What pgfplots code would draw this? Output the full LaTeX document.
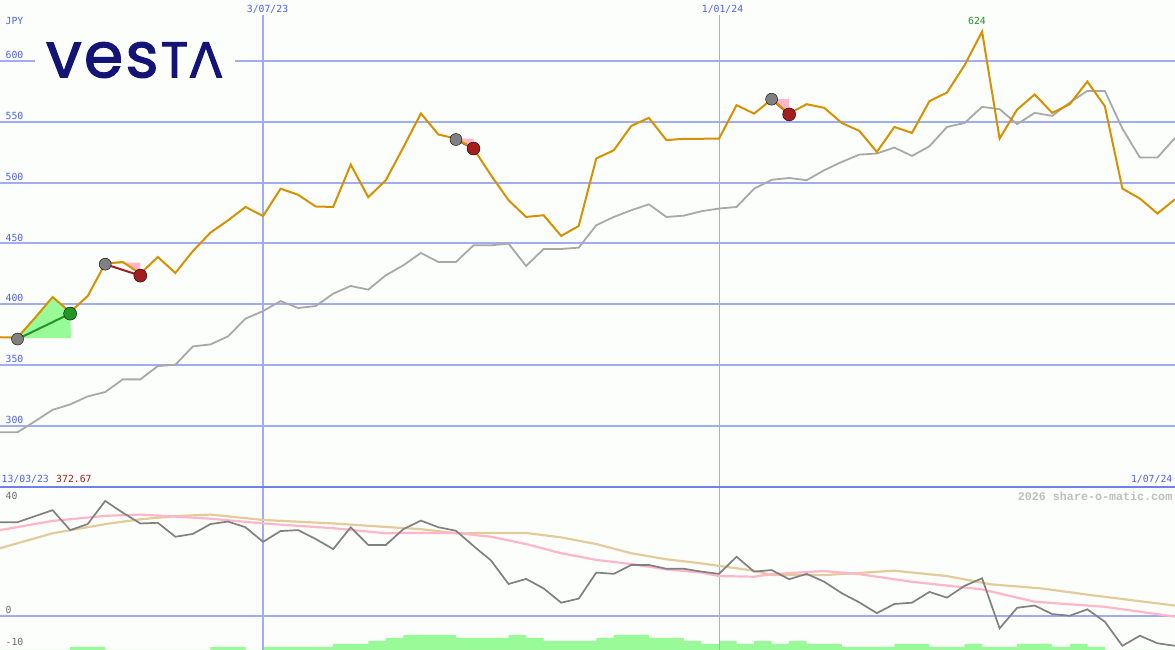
\documentclass[border=0pt]{standalone}
\usepackage{pgfplots}
\pgfplotsset{compat=1.18}
\usepackage{fontspec}
\setmainfont{DejaVu Sans Mono}
\newfontfamily\wmfont{Liberation Mono}
\newfontfamily\logofont{Poppins}[FakeBold=2]
\definecolor{bg}{RGB}{252,254,252}
\definecolor{gridb}{RGB}{160,174,240}
\definecolor{sepb}{RGB}{112,128,232}
\definecolor{labb}{RGB}{80,96,240}
\definecolor{priceo}{RGB}{215,145,0}
\definecolor{mag}{RGB}{168,168,168}
\definecolor{oscg}{RGB}{128,128,128}
\definecolor{pinkl}{RGB}{255,182,200}
\definecolor{tanl}{RGB}{226,204,156}
\definecolor{palegr}{RGB}{152,251,152}
\definecolor{darkgr}{RGB}{34,150,34}
\definecolor{darkred}{RGB}{165,30,30}
\definecolor{markgrey}{RGB}{128,128,128}
\definecolor{navy}{RGB}{20,20,118}
\definecolor{wmgrey}{RGB}{190,190,190}
\definecolor{lblgrey}{RGB}{110,110,110}

\pgfplotstableread{
k v
0 373
1 372.7
2 389
3 406
4 393.7
5 406.8
6 433.5
7 434.8
8 425.2
9 438.9
10 425.8
11 443.8
12 458.9
13 469
14 480
15 472.6
16 495
17 490
18 480.4
19 480
20 514.8
21 488
22 502
23 529
24 556.8
25 539.5
26 536.2
27 528
28 506
29 485.5
30 471.8
31 473.2
32 456.2
33 464.4
34 519.8
35 526.6
36 546.6
37 553.2
38 534.9
39 536
40 536
41 536.2
42 563.6
43 556.7
44 568.3
45 556.8
46 564.4
47 561.4
48 549
49 542.5
50 525.2
51 545.7
52 540.8
53 566.9
54 574
55 596.4
56 624
57 536.2
58 560
59 572.4
60 557.3
61 564.4
62 583
63 562.8
64 495.1
65 486.9
66 474.6
67 486.3
}\price

\pgfplotstableread{
k v
0 295
1 295
2 304
3 313.4
4 317.8
5 324.4
6 328
7 338.4
8 338.4
9 349.3
10 350.4
11 365.5
12 367.1
13 373.7
14 388.3
15 394.5
16 402.7
17 397
18 398.6
19 408.8
20 415.1
21 412.1
22 423.9
23 432.1
24 442.2
25 434.8
26 434.8
27 448.5
28 448.5
29 449.9
30 431.5
31 445.5
32 445.5
33 446.6
34 465
35 471.8
36 477.3
37 482.2
38 471.8
39 472.9
40 476.5
41 478.7
42 480
43 495
44 502.3
45 503.8
46 502
47 510.2
48 517
49 523
50 523.9
51 528.8
52 521.9
53 529.9
54 545.7
55 549
56 562.2
57 560.3
58 548
59 557.3
60 554.8
61 565.8
62 575.3
63 575.3
64 544.4
65 520.6
66 520.6
67 536.7
}\mavg

\pgfplotstableread{
k v
0 29.5
1 29.5
2 31.4
3 33.3
4 27
5 28.9
6 36.2
7 32.5
8 29.1
9 29.3
10 24.9
11 25.8
12 28.9
13 29.7
14 27.9
15 23.3
16 26.7
17 27
18 24.2
19 21
20 27.9
21 22.3
22 22.3
23 27.3
24 30
25 27.9
26 26.8
27 22
28 17.4
29 10
30 11.6
31 8.6
32 4.1
33 5.4
34 13.6
35 13.2
36 16
37 16
38 14.8
39 14.8
40 13.9
41 13.2
42 18.6
43 13.9
44 14.4
45 11.5
46 13.2
47 10.7
48 7.1
49 4.2
50 0.8
51 3.7
52 4.1
53 7.5
54 5.7
55 9.4
56 11.8
57 -4
58 2.5
59 3.2
60 0.5
61 0
62 2
63 -1.9
64 -9.5
65 -6.3
66 -8.7
67 -9.5
}\osc

\pgfplotstableread{
k v
0 27
3 29.9
6 31.5
8 31.9
12 30.6
15 29.1
19 27.6
22 26
24 26.1
26 26.1
28 24.9
30 22.6
32 19.7
34 17.6
36 16.3
38 14.6
40 13.6
41 12.5
43 12.3
44 13.1
47 14.1
49 13.1
52 10.7
56 8.3
59 4.4
63 2.8
67 -0.3
}\oscpink

\pgfplotstableread{
k v
0 21.3
3 26
6 28.9
8 30.4
10 31.4
12 31.9
15 30.2
19 29.1
22 28
24 27.3
26 26
28 26.1
30 26.1
32 24.7
34 22.6
36 19.7
38 17.8
40 16.5
41 15.7
43 14.2
44 12.8
47 12.8
51 14.2
54 12.5
56.5 9.9
59.4 8.6
62.2 6.5
67 3.2
}\osctan

\pgfplotstableread{
k h
0 0
4 3
6 0
12 3
14 0
15 3
19 6
21 9
22 12
23 15
26 12
29 15
30 12
31 9
34 12
35 15
37 12
39 9
40 6
41 9
42 6
43 9
44 6
45 9
46 6
48 3
51 6
53 3
55 6
56 3
58 6
60 3
61 6
62 3
63 0
67 0
}\hist

\begin{document}
\begin{tikzpicture}[x=1pt,y=1pt]
\useasboundingbox (0,0) rectangle (1175,650);
\fill[bg] (0,0) rectangle (1175,650);

% ---------- top panel ----------
\begin{axis}[at={(0pt,163pt)}, anchor=south west, scale only axis,
  width=1175pt, height=487pt, xmin=0, xmax=67, ymin=250, ymax=650,
  axis line style={draw=none}, xtick=\empty, ytick={300,350,...,600},
  yticklabels={}, major tick length=0pt, ymajorgrids,
  grid style={gridb, line width=2pt}, clip=true]
\draw[gridb, line width=2.3pt] (axis cs:15,250) -- (axis cs:15,637.7);
\draw[gridb, line width=1pt] (axis cs:41,250) -- (axis cs:41,637.7);
% signal areas
\addplot[fill=palegr, draw=none] coordinates {(1,372.3)(2,389)(3,406)(4,393.7)(4.05,372.3)} --cycle;
\addplot[fill=palegr, draw=none] coordinates {(6,433.5)(7,434.8)(7.1,433.5)} --cycle;
\addplot[fill=pinkl, draw=none] coordinates {(7.05,434.3)(8,434.3)(8,425.2)} --cycle;
\addplot[fill=pinkl, draw=none] coordinates {(26,536.2)(27,536.2)(27,528)} --cycle;
\addplot[fill=pinkl, draw=none] coordinates {(44,568.5)(45,568.5)(45,556.8)} --cycle;
% signal links
\addplot[darkgr, line width=2pt] coordinates {(1,371.5)(4,392.4)};
\addplot[darkred, line width=2pt] coordinates {(6,433)(8,423.6)};
\addplot[darkred, line width=2pt] coordinates {(26,535.4)(27,528)};
\addplot[darkred, line width=2pt] coordinates {(44,568.5)(45,556)};
% markers
\addplot[only marks, mark=*, mark size=6pt, mark options={fill=markgrey, draw=none}]
  coordinates {(1,371.5)(6,433)(26,535.4)(44,568.5)};
\addplot[only marks, mark=*, mark size=6.5pt, mark options={fill=darkred, draw=none}]
  coordinates {(8,423.6)(27,528)(45,556)};
\addplot[only marks, mark=*, mark size=6.5pt, mark options={fill=darkgr, draw=none}]
  coordinates {(4,392.4)};
% lines
\addplot[mag, line width=1.8pt] table[x=k, y=v] {\mavg};
\addplot[priceo, line width=2pt] table[x=k, y=v] {\price};
\end{axis}

% ---------- histogram (bottom) ----------
\begin{axis}[at={(0pt,0pt)}, anchor=south west, scale only axis,
  width=1175pt, height=163pt, xmin=0, xmax=67, ymin=0, ymax=163, hide axis]
\addplot[const plot, fill=palegr, draw=none] table[x=k, y=h] {\hist} \closedcycle;
\end{axis}

% ---------- oscillator panel ----------
\begin{axis}[at={(0pt,0pt)}, anchor=south west, scale only axis,
  width=1175pt, height=163pt, xmin=0, xmax=67, ymin=-10.82, ymax=40.6,
  axis line style={draw=none}, xtick=\empty, ytick={0}, yticklabels={},
  major tick length=0pt, ymajorgrids, grid style={gridb, line width=2pt}, clip=true]
\draw[gridb, line width=2.3pt] (axis cs:15,-10.82) -- (axis cs:15,40.6);
\draw[gridb, line width=1pt] (axis cs:41,-10.82) -- (axis cs:41,40.6);
\addplot[tanl, line width=2.2pt] table[x=k, y=v] {\osctan};
\addplot[pinkl, line width=2.2pt] table[x=k, y=v] {\oscpink};
\addplot[oscg, line width=1.7pt] table[x=k, y=v] {\osc};
\end{axis}

% separator
\draw[sepb, line width=2pt] (0,163.2) -- (1175,163.2);

% logo
\fill[bg] (35,565) rectangle (235,612);
\node[anchor=base west, inner sep=0, text=navy] at (46,572.7)
  {\logofont\fontsize{63}{63}\selectfont v\kern2.5pt e\kern2.5pt s\kern2.5pt\fontsize{50}{50}\selectfont T\kern1pt\rotatebox[origin=c]{180}{V}};

% labels
\begin{scope}[every node/.style={inner sep=0, font=\fontsize{9.8}{10}\selectfont}]
\node[anchor=west, text=labb] at (5.5,628.7) {JPY};
\node[anchor=west, text=labb] at (5.5,595) {600};
\node[anchor=west, text=labb] at (5.5,534.2) {550};
\node[anchor=west, text=labb] at (5.5,473.3) {500};
\node[anchor=west, text=labb] at (5.5,412.5) {450};
\node[anchor=west, text=labb] at (5.5,351.7) {400};
\node[anchor=west, text=labb] at (5.5,290.8) {350};
\node[anchor=west, text=labb] at (5.5,230) {300};
\node[text=labb] at (267.5,641) {3/07/23};
\node[text=labb] at (722.5,641) {1/01/24};
\node[text=darkgr] at (977,629) {624};
\node[anchor=west, text=labb] at (1.5,171) {13/03/23};
\node[anchor=west, text=darkred] at (56,171) {372.67};
\node[anchor=east, text=labb] at (1172.5,170.7) {1/07/24};
\node[anchor=west, text=lblgrey] at (5.5,154.3) {40};
\node[anchor=west, text=lblgrey] at (5.5,40) {0};
\node[anchor=west, text=lblgrey] at (5.5,8.3) {-10};
\end{scope}
\node[anchor=east, inner sep=0, text=wmgrey] at (1172.5,154)
  {\wmfont\bfseries\fontsize{11.7}{12}\selectfont 2026 share-o-matic.com};
\end{tikzpicture}
\end{document}
